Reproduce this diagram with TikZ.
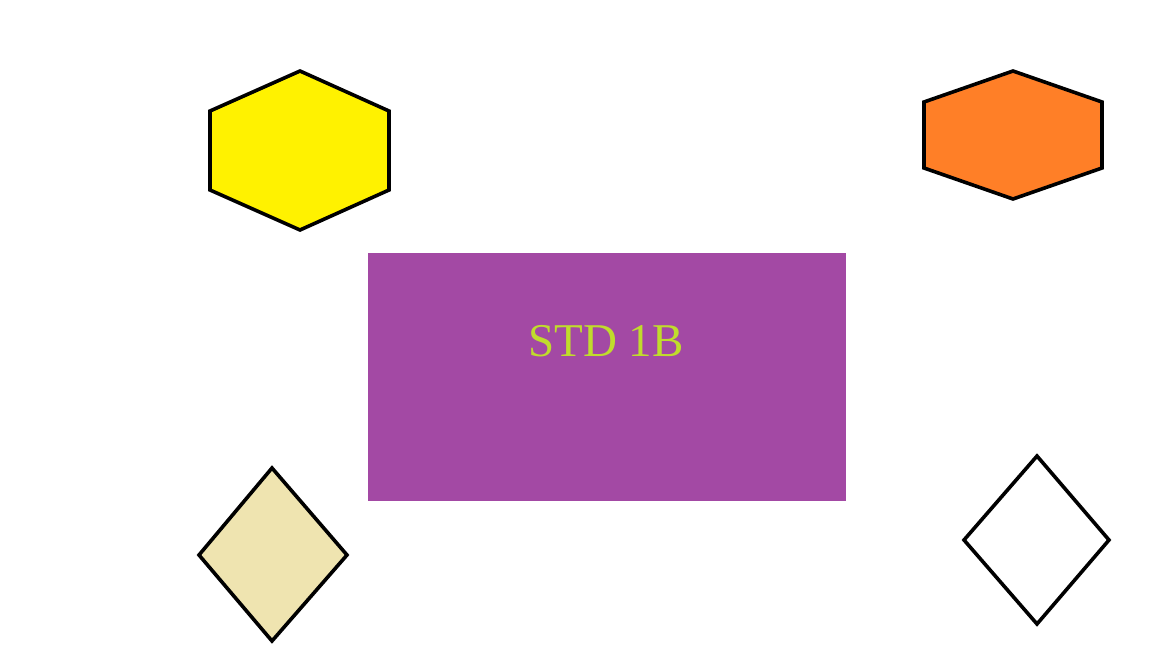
\documentclass[tikz,border=0pt]{standalone}
\usepackage{fontspec}
\setmainfont{Liberation Serif}
\definecolor{hexyellow}{HTML}{FFF200}
\definecolor{hexorange}{HTML}{FF7F27}
\definecolor{boxpurple}{HTML}{A349A4}
\definecolor{txtgreen}{HTML}{C0DC2C}
\definecolor{tan}{HTML}{EFE4B0}
\tikzset{
  shapeline/.style={draw=black, line width=3.6pt, line join=miter},
}
\begin{document}
\begin{tikzpicture}[x=1pt,y=-1pt]
\useasboundingbox[fill=white] (0,0) rectangle (1152,648);
% yellow hexagon
\draw[shapeline, fill=hexyellow] (300,71) -- (389,111) -- (389,190) -- (300,230) -- (210,190) -- (210,111) -- cycle;
% orange hexagon
\draw[shapeline, fill=hexorange] (1013,71) -- (1102,102) -- (1102,168) -- (1013,199) -- (924,168) -- (924,102) -- cycle;
% purple box
\fill[boxpurple] (368,253) rectangle (846,501);
\node[text=txtgreen, font=\fontsize{47}{50}\selectfont, inner sep=0pt, anchor=base] (lbl) at (606,356) {STD 1B};
% tan diamond
\draw[shapeline, fill=tan] (272,468) -- (347,555) -- (272,641) -- (199,555) -- cycle;
% white diamond
\draw[shapeline, fill=white] (1037,456) -- (1109,540) -- (1037,624) -- (964,540) -- cycle;
\end{tikzpicture}
\end{document}
